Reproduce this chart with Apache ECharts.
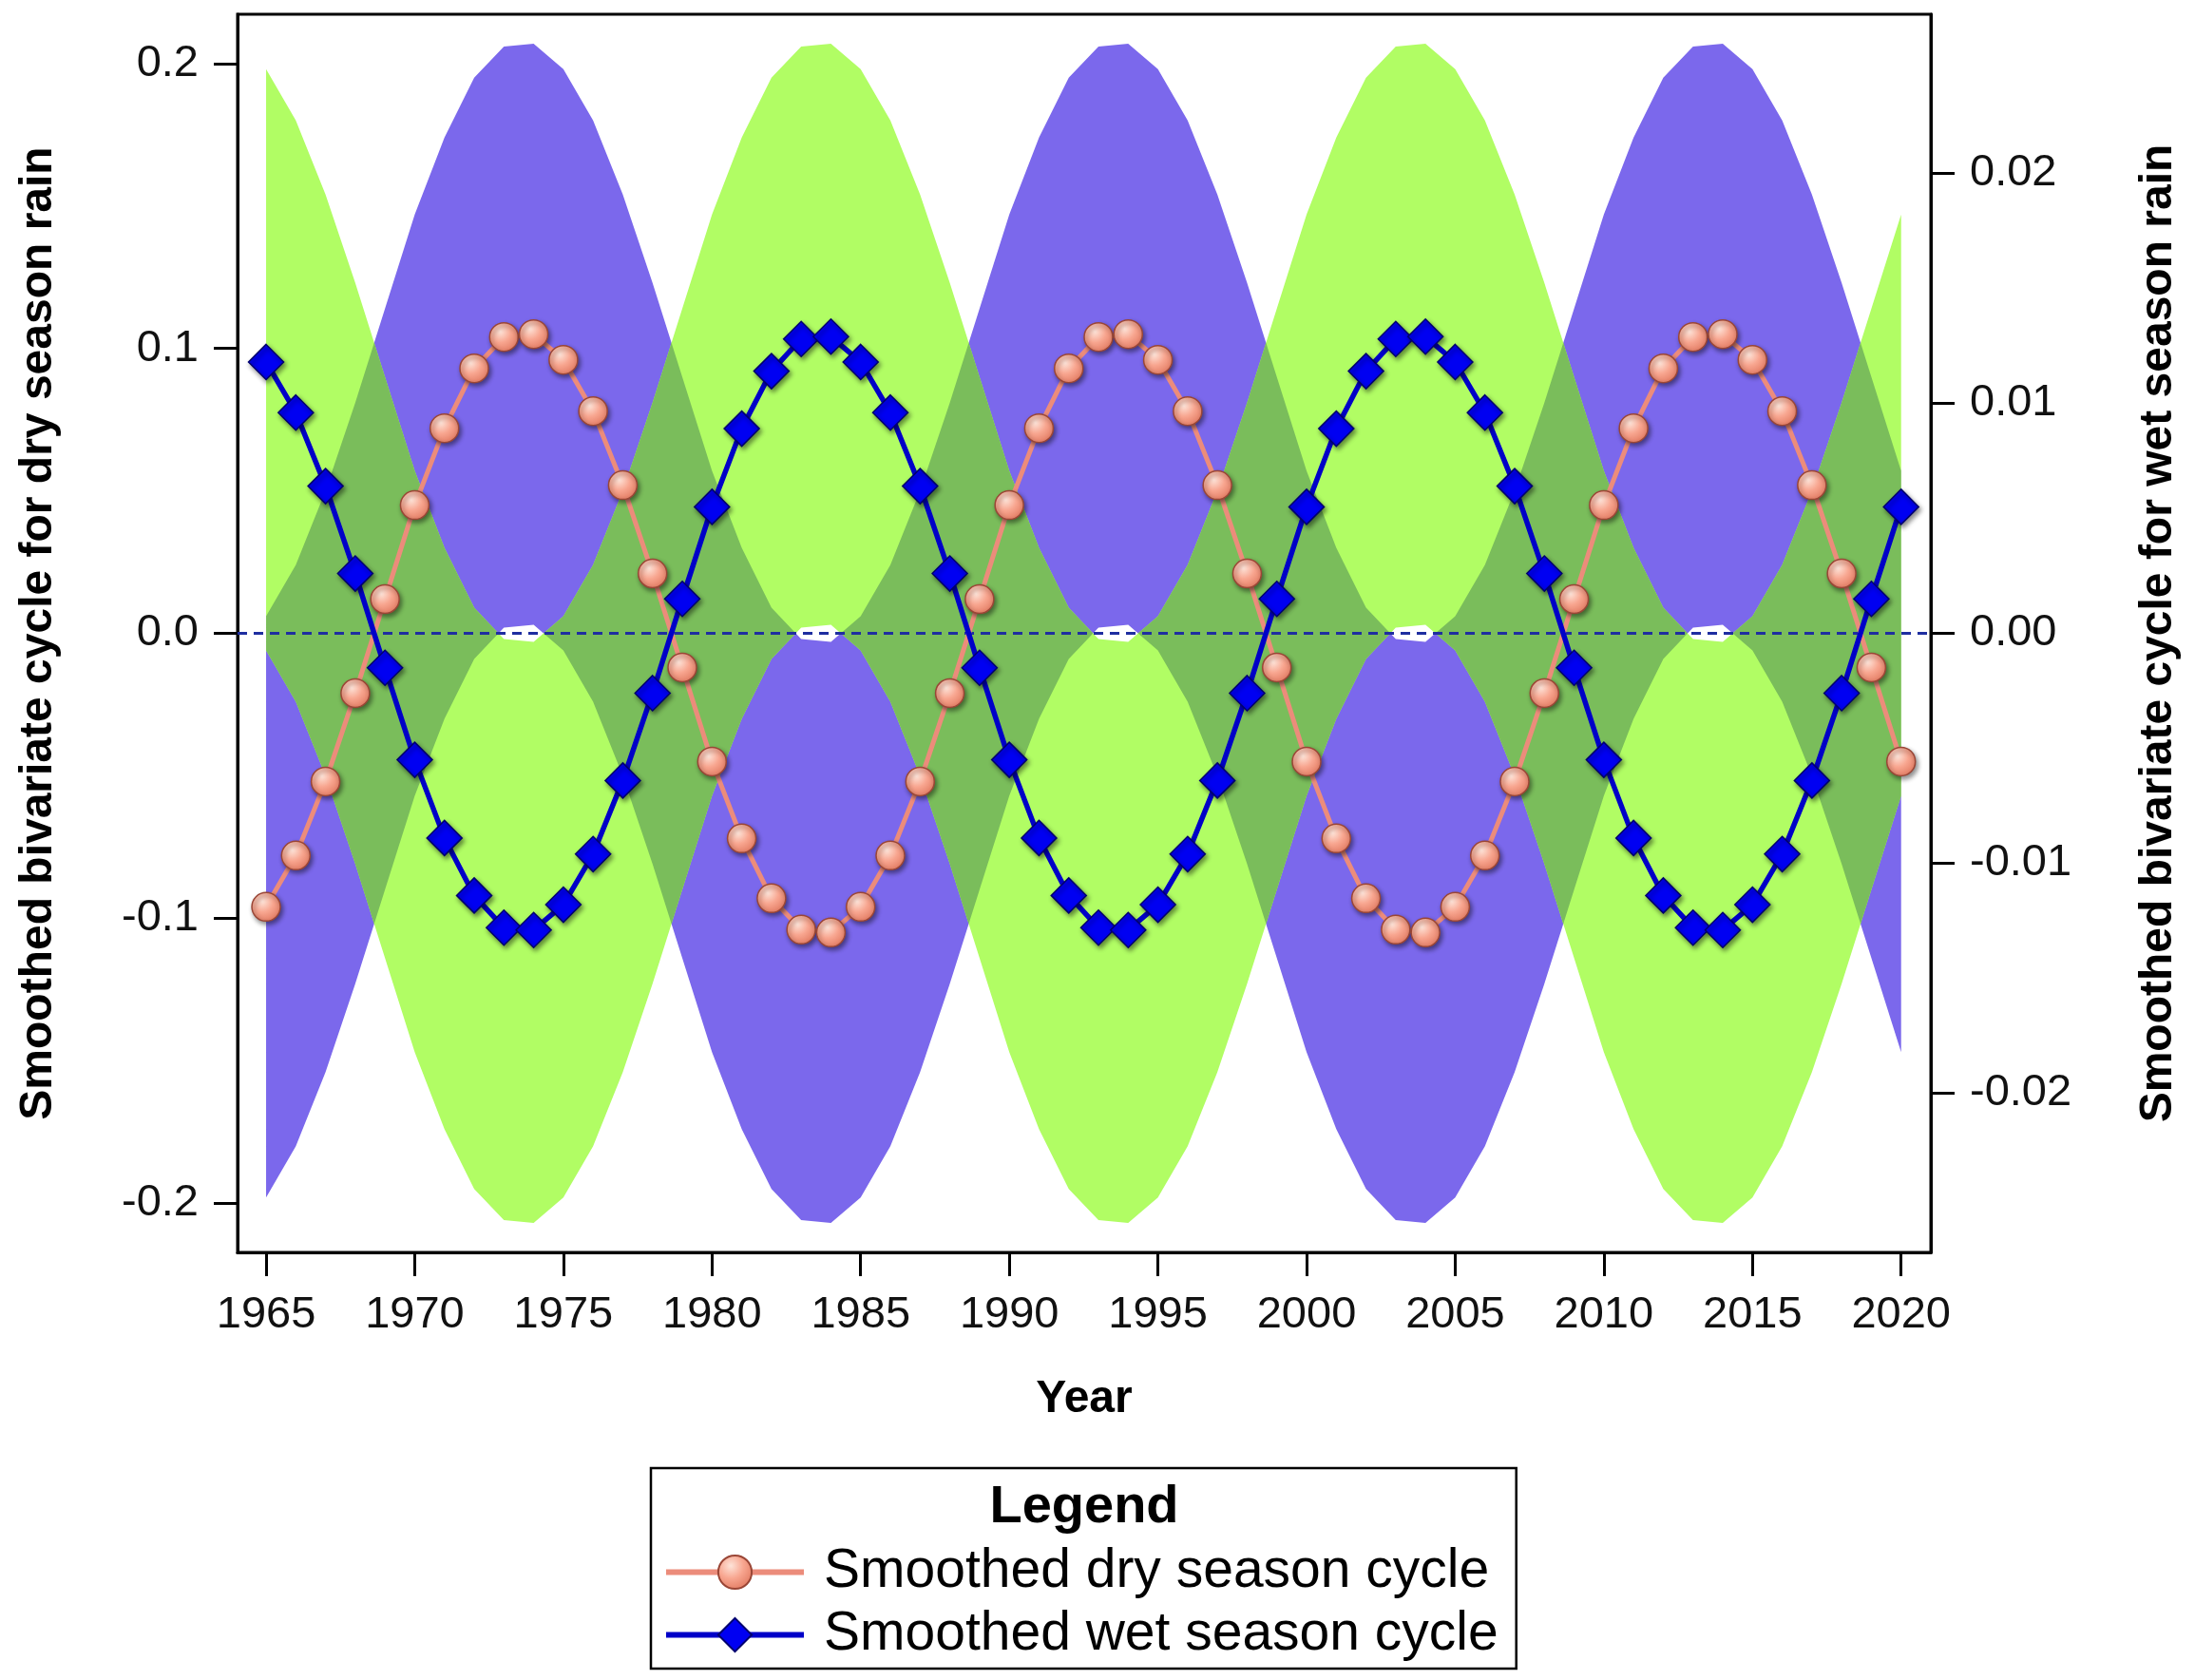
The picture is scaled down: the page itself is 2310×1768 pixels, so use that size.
<!DOCTYPE html>
<html>
<head>
<meta charset="utf-8">
<title>Smoothed bivariate cycles</title>
<script src="https://cdn.jsdelivr.net/npm/echarts@6/dist/echarts.min.js"></script>
<style>
  html, body { margin: 0; padding: 0; background: #fff; }
  #chart { width: 2310px; height: 1768px; }
</style>
</head>
<body>
<div id="chart"></div>
<script>
// Years on the horizontal axis
const years = [
  1965, 1966, 1967, 1968, 1969, 1970, 1971, 1972, 1973, 1974,
  1975, 1976, 1977, 1978, 1979, 1980, 1981, 1982, 1983, 1984,
  1985, 1986, 1987, 1988, 1989, 1990, 1991, 1992, 1993, 1994,
  1995, 1996, 1997, 1998, 1999, 2000, 2001, 2002, 2003, 2004,
  2005, 2006, 2007, 2008, 2009, 2010, 2011, 2012, 2013, 2014,
  2015, 2016, 2017, 2018, 2019, 2020
];

// Smoothed dry season cycle (left axis)
const dryCycle = [
  -0.096, -0.078, -0.052, -0.021, 0.012, 0.045, 0.072, 0.093, 0.104, 0.105,
  0.096, 0.078, 0.052, 0.021, -0.012, -0.045, -0.072, -0.093, -0.104, -0.105,
  -0.096, -0.078, -0.052, -0.021, 0.012, 0.045, 0.072, 0.093, 0.104, 0.105,
  0.096, 0.078, 0.052, 0.021, -0.012, -0.045, -0.072, -0.093, -0.104, -0.105,
  -0.096, -0.078, -0.052, -0.021, 0.012, 0.045, 0.072, 0.093, 0.104, 0.105,
  0.096, 0.078, 0.052, 0.021, -0.012, -0.045
];

// Smoothed wet season cycle (right axis)
const wetCycle = [
  0.0118, 0.0096, 0.0064, 0.0026, -0.0015, -0.0055, -0.0089, -0.0114, -0.0128, -0.0129,
  -0.0118, -0.0096, -0.0064, -0.0026, 0.0015, 0.0055, 0.0089, 0.0114, 0.0128, 0.0129,
  0.0118, 0.0096, 0.0064, 0.0026, -0.0015, -0.0055, -0.0089, -0.0114, -0.0128, -0.0129,
  -0.0118, -0.0096, -0.0064, -0.0026, 0.0015, 0.0055, 0.0089, 0.0114, 0.0128, 0.0129,
  0.0118, 0.0096, 0.0064, 0.0026, -0.0015, -0.0055, -0.0089, -0.0114, -0.0128, -0.0129,
  -0.0118, -0.0096, -0.0064, -0.0026, 0.0015, 0.0055
];

// Band around the dry season cycle (left axis units)
const dryBandUpper = [
  0.006, 0.024, 0.050, 0.081, 0.114, 0.147, 0.174, 0.195, 0.206, 0.207,
  0.198, 0.180, 0.154, 0.123, 0.090, 0.057, 0.030, 0.009, -0.002, -0.003,
  0.006, 0.024, 0.050, 0.081, 0.114, 0.147, 0.174, 0.195, 0.206, 0.207,
  0.198, 0.180, 0.154, 0.123, 0.090, 0.057, 0.030, 0.009, -0.002, -0.003,
  0.006, 0.024, 0.050, 0.081, 0.114, 0.147, 0.174, 0.195, 0.206, 0.207,
  0.198, 0.180, 0.154, 0.123, 0.090, 0.057
];
const dryBandLower = [
  -0.198, -0.180, -0.154, -0.123, -0.090, -0.057, -0.030, -0.009, 0.002, 0.003,
  -0.006, -0.024, -0.050, -0.081, -0.114, -0.147, -0.174, -0.195, -0.206, -0.207,
  -0.198, -0.180, -0.154, -0.123, -0.090, -0.057, -0.030, -0.009, 0.002, 0.003,
  -0.006, -0.024, -0.050, -0.081, -0.114, -0.147, -0.174, -0.195, -0.206, -0.207,
  -0.198, -0.180, -0.154, -0.123, -0.090, -0.057, -0.030, -0.009, 0.002, 0.003,
  -0.006, -0.024, -0.050, -0.081, -0.114, -0.147
];

// Band around the wet season cycle (expressed in left axis units)
const wetBandUpper = [
  0.198, 0.180, 0.154, 0.123, 0.090, 0.057, 0.030, 0.009, -0.002, -0.003,
  0.006, 0.024, 0.050, 0.081, 0.114, 0.147, 0.174, 0.195, 0.206, 0.207,
  0.198, 0.180, 0.154, 0.123, 0.090, 0.057, 0.030, 0.009, -0.002, -0.003,
  0.006, 0.024, 0.050, 0.081, 0.114, 0.147, 0.174, 0.195, 0.206, 0.207,
  0.198, 0.180, 0.154, 0.123, 0.090, 0.057, 0.030, 0.009, -0.002, -0.003,
  0.006, 0.024, 0.050, 0.081, 0.114, 0.147
];
const wetBandLower = [
  -0.006, -0.024, -0.050, -0.081, -0.114, -0.147, -0.174, -0.195, -0.206, -0.207,
  -0.198, -0.180, -0.154, -0.123, -0.090, -0.057, -0.030, -0.009, 0.002, 0.003,
  -0.006, -0.024, -0.050, -0.081, -0.114, -0.147, -0.174, -0.195, -0.206, -0.207,
  -0.198, -0.180, -0.154, -0.123, -0.090, -0.057, -0.030, -0.009, 0.002, 0.003,
  -0.006, -0.024, -0.050, -0.081, -0.114, -0.147, -0.174, -0.195, -0.206, -0.207,
  -0.198, -0.180, -0.154, -0.123, -0.090, -0.057
];

// Tick positions
const yearTicks = [1965, 1970, 1975, 1980, 1985, 1990, 1995, 2000, 2005, 2010, 2015, 2020];
const dryTicks = [-0.2, -0.1, 0, 0.1, 0.2];
const wetTicks = [-0.02, -0.01, 0, 0.01, 0.02];

const FONT = "'Liberation Sans', Arial, Helvetica, sans-serif";
const PURPLE = '#7b68ec';
const GREEN = '#b1fd64';
const OVERLAP = '#7abd5b';

const chart = echarts.init(document.getElementById('chart'), null, { renderer: 'canvas' });

function bandPoints(api, upper, lower) {
  const pts = [];
  for (let i = 0; i < years.length; i++) pts.push(api.coord([years[i], upper[i]]));
  for (let i = years.length - 1; i >= 0; i--) pts.push(api.coord([years[i], lower[i]]));
  return pts;
}

const markerShadow = {
  shadowBlur: 5,
  shadowOffsetX: 2,
  shadowOffsetY: 3,
  shadowColor: 'rgba(0,0,0,0.45)'
};

const option = {
  animation: false,
  backgroundColor: '#ffffff',
  grid: {
    left: 250, top: 15, width: 1782, height: 1303,
    show: true, borderColor: '#000', borderWidth: 3, backgroundColor: 'transparent'
  },
  legend: {
    orient: 'vertical',
    left: 685, top: 1545,
    padding: [81, 19, 7, 13],
    itemGap: 9,
    itemWidth: 145,
    itemHeight: 44,
    borderColor: '#000',
    borderWidth: 2.5,
    backgroundColor: '#fff',
    lineStyle: { width: 6 },
    textStyle: { fontFamily: FONT, fontSize: 57, color: '#000', padding: [0, 0, 0, 16] },
    data: ['Smoothed dry season cycle', 'Smoothed wet season cycle']
  },
  graphic: [{
    type: 'text',
    x: 1141, y: 1587,
    style: {
      text: 'Legend',
      font: 'bold 56px ' + FONT,
      fill: '#000',
      textAlign: 'center',
      textVerticalAlign: 'middle'
    },
    z: 100
  }],
  xAxis: {
    type: 'value',
    min: 1964.04, max: 2021,
    name: 'Year',
    nameLocation: 'middle',
    nameGap: 131,
    nameTextStyle: { fontFamily: FONT, fontSize: 48, fontWeight: 'bold', color: '#000' },
    axisLine: { show: true, onZero: false, lineStyle: { color: '#000', width: 3 } },
    axisTick: { show: true, length: 25, lineStyle: { color: '#000', width: 3 }, customValues: yearTicks },
    axisLabel: {
      fontFamily: FONT, fontSize: 47, color: '#111', margin: 43,
      customValues: yearTicks,
      formatter: v => String(Math.round(v))
    },
    splitLine: { show: false }
  },
  yAxis: [{
    type: 'value',
    position: 'left',
    min: -0.2173, max: 0.2173,
    name: 'Smoothed bivariate cycle for dry season rain',
    nameLocation: 'middle',
    nameRotate: 90,
    nameGap: 185,
    nameTextStyle: { fontFamily: FONT, fontSize: 48, fontWeight: 'bold', color: '#000' },
    axisLine: { show: true, onZero: false, lineStyle: { color: '#000', width: 3 } },
    axisTick: { show: true, length: 25, lineStyle: { color: '#000', width: 3 }, customValues: dryTicks },
    axisLabel: {
      fontFamily: FONT, fontSize: 47, color: '#111', margin: 41,
      customValues: dryTicks,
      formatter: v => v.toFixed(1)
    },
    splitLine: { show: false }
  }, {
    type: 'value',
    position: 'right',
    min: -0.02692, max: 0.02692,
    name: 'Smoothed bivariate cycle for wet season rain',
    nameLocation: 'middle',
    nameRotate: 90,
    nameGap: 216,
    nameTextStyle: { fontFamily: FONT, fontSize: 48, fontWeight: 'bold', color: '#000' },
    axisLine: { show: true, onZero: false, lineStyle: { color: '#000', width: 3 } },
    axisTick: { show: true, length: 25, lineStyle: { color: '#000', width: 3 }, customValues: wetTicks },
    axisLabel: {
      fontFamily: FONT, fontSize: 47, color: '#111', margin: 41,
      customValues: wetTicks,
      formatter: v => v.toFixed(2)
    },
    splitLine: { show: false }
  }],
  series: [{
    // Confidence bands; the intersection is shaded separately
    type: 'custom',
    name: 'bands',
    xAxisIndex: 0, yAxisIndex: 0,
    silent: true,
    z: 1,
    data: [[years[0], 0]],
    renderItem: function (params, api) {
      const dryPts = bandPoints(api, dryBandUpper, dryBandLower);
      const wetPts = bandPoints(api, wetBandUpper, wetBandLower);
      return {
        type: 'group',
        children: [
          { type: 'polygon', shape: { points: dryPts }, style: { fill: PURPLE } },
          { type: 'polygon', shape: { points: wetPts }, style: { fill: GREEN } },
          {
            type: 'polygon', shape: { points: wetPts }, style: { fill: OVERLAP },
            clipPath: { type: 'polygon', shape: { points: dryPts } }
          }
        ]
      };
    }
  }, {
    type: 'line',
    name: 'Smoothed dry season cycle',
    xAxisIndex: 0, yAxisIndex: 0,
    z: 3,
    data: years.map((y, i) => [y, dryCycle[i]]),
    symbol: 'circle',
    symbolSize: 30,
    lineStyle: { color: '#ec8c7b', width: 5 },
    itemStyle: Object.assign({
      color: {
        type: 'radial', x: 0.38, y: 0.32, r: 0.72,
        colorStops: [
          { offset: 0, color: '#fde3d8' },
          { offset: 0.5, color: '#f8a690' },
          { offset: 1, color: '#e27b62' }
        ]
      },
      borderColor: '#9a4636',
      borderWidth: 1.5
    }, markerShadow),
    markLine: {
      silent: true,
      z: 2,
      symbol: 'none',
      label: { show: false },
      lineStyle: { color: '#1f2ea0', width: 3, type: [10, 7] },
      data: [{ yAxis: 0 }]
    }
  }, {
    type: 'line',
    name: 'Smoothed wet season cycle',
    xAxisIndex: 0, yAxisIndex: 1,
    z: 4,
    data: years.map((y, i) => [y, wetCycle[i]]),
    symbol: 'diamond',
    symbolSize: 37,
    lineStyle: { color: '#0000c8', width: 5.5 },
    itemStyle: Object.assign({
      color: '#0000f2',
      borderColor: '#00006e',
      borderWidth: 1.5
    }, markerShadow)
  }]
};

chart.setOption(option);
</script>
</body>
</html>
